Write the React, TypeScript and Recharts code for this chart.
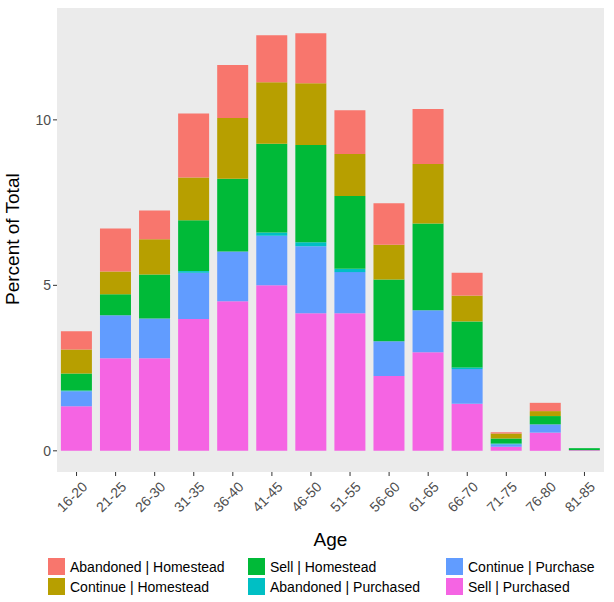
import { BarChart, Bar, XAxis, YAxis, CartesianGrid } from 'recharts';

const ages = ['16-20', '21-25', '26-30', '31-35', '36-40', '41-45', '46-50', '51-55', '56-60', '61-65', '66-70', '71-75', '76-80', '81-85'];
const sellPurchased = [1.35, 2.8, 2.8, 3.98, 4.52, 5.0, 4.16, 4.16, 2.26, 2.98, 1.42, 0.12, 0.55, 0.02];
const continuePurchase = [0.45, 1.3, 1.2, 1.4, 1.5, 1.5, 2.02, 1.24, 1.05, 1.27, 1.05, 0.08, 0.25, 0.0];
const abandonedPurchased = [0.02, 0.0, 0.0, 0.05, 0.0, 0.1, 0.12, 0.1, 0.0, 0.0, 0.05, 0.02, 0.0, 0.0];
const sellHomestead = [0.52, 0.63, 1.33, 1.54, 2.2, 2.68, 2.94, 2.2, 1.87, 2.62, 1.39, 0.15, 0.25, 0.06];
const continueHomestead = [0.72, 0.69, 1.06, 1.29, 1.84, 1.86, 1.87, 1.27, 1.05, 1.8, 0.78, 0.15, 0.15, 0.0];
const abandonedHomestead = [0.55, 1.3, 0.87, 1.93, 1.6, 1.42, 1.51, 1.32, 1.25, 1.66, 0.69, 0.04, 0.25, 0.0];
const majorTicks = [0, 5, 10];
const minorTicks = [2.5, 7.5, 12.5];

const series = [
  { key: 'sp', name: 'Sell | Purchased', color: '#F564E3', values: sellPurchased },
  { key: 'cp', name: 'Continue | Purchase', color: '#619CFF', values: continuePurchase },
  { key: 'ap', name: 'Abandoned | Purchased', color: '#00BFC4', values: abandonedPurchased },
  { key: 'sh', name: 'Sell | Homestead', color: '#00BA38', values: sellHomestead },
  { key: 'ch', name: 'Continue | Homestead', color: '#B79F00', values: continueHomestead },
  { key: 'ah', name: 'Abandoned | Homestead', color: '#F8766D', values: abandonedHomestead },
];

const legendOrder = ['ah', 'sh', 'cp', 'ch', 'ap', 'sp'];

const data = ages.map((age, i) => {
  const row: any = { age };
  series.forEach(s => { row[s.key] = s.values[i]; });
  return row;
});

const XTick = (props: any) => {
  const { x, y, payload } = props;
  return (
    <text x={x + 6} y={y + 4} transform={`rotate(-45, ${x + 6}, ${y + 4})`} textAnchor="end" fill="#4D4D4D" fontSize={14} dy={8}>
      {payload.value}
    </text>
  );
};

export default function App() {
  return (
    <div style={{ position: 'absolute', left: 0, top: 0, width: 614, height: 602, background: '#fff', fontFamily: '"Liberation Sans", Arial, sans-serif' }}>
      <BarChart width={614} height={552} data={data} margin={{ top: 8, right: 10, left: 0, bottom: 0 }} barCategoryGap="10%">
        <rect x={57} y={8} width={547} height={464} fill="#EBEBEB" />
        <CartesianGrid stroke="#fff" strokeWidth={0.6} vertical={false} horizontalValues={minorTicks} />
        <CartesianGrid stroke="#fff" strokeWidth={1.3} />
        <XAxis
          dataKey="age"
          height={80}
          tick={<XTick />}
          tickLine={{ stroke: '#333' }}
          tickSize={4}
          axisLine={false}
          interval={0}
          label={{ value: 'Age', position: 'insideBottom', offset: 6, fill: '#000', fontSize: 19 }}
        />
        <YAxis
          width={57}
          type="number"
          domain={[-0.64, 13.38]}
          ticks={majorTicks}
          allowDataOverflow
          tick={{ fill: '#4D4D4D', fontSize: 14 }}
          tickLine={{ stroke: '#333' }}
          tickSize={4}
          axisLine={false}
          label={{ value: 'Percent of Total', angle: -90, position: 'insideLeft', offset: 12, dy: 65, fill: '#000', fontSize: 19 }}
        />
        {series.map(s => (
          <Bar key={s.key} dataKey={s.key} name={s.name} stackId="a" fill={s.color} isAnimationActive={false} />
        ))}
      </BarChart>
      <div style={{ position: 'absolute', left: 48, top: 558, display: 'grid', gridTemplateColumns: '200px 198px 170px', rowGap: 3, fontSize: 14 }}>
        {legendOrder.map(k => {
          const s = series.find(x => x.key === k)!;
          return (
            <div key={k} style={{ display: 'flex', alignItems: 'center', height: 17 }}>
              <span style={{ width: 17, height: 17, background: s.color, display: 'inline-block', marginRight: 5 }} />
              <span>{s.name}</span>
            </div>
          );
        })}
      </div>
    </div>
  );
}
